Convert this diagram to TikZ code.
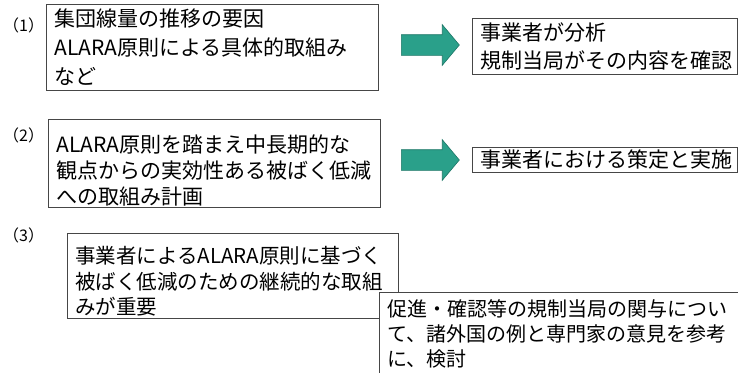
\documentclass[tikz,border=0pt]{standalone}
\usepackage{fontspec}
\setmainfont{Noto Sans CJK JP}
\usetikzlibrary{shapes.arrows}
\definecolor{teal1}{RGB}{42,160,138}
\definecolor{teal2}{RGB}{28,118,102}
\definecolor{boxline}{RGB}{70,70,70}
\tikzset{
  box/.style={draw=boxline, line width=0.9pt, fill=white, anchor=north west,
    inner xsep=8pt, inner ysep=0pt, align=left},
  lbl/.style={font=\fontsize{16}{18}\selectfont, inner sep=0pt, anchor=west},
  bigarrow/.style={single arrow, draw=teal2, line width=0.6pt, fill=teal1,
    inner xsep=0pt, inner ysep=10pt, minimum width=40pt, minimum height=58pt,
    single arrow head extend=10pt, single arrow tip angle=100,
    single arrow head indent=0pt}
}
\begin{document}
\begin{tikzpicture}[x=1pt,y=-1pt]
\useasboundingbox (0,0) rectangle (738,372);
\clip (0,0) rectangle (738,372);
\fill[white] (0,0) rectangle (738,372);

\node[lbl] (l1) at (3,25) {（1）};
\node[lbl] (l2) at (3,135) {（2）};
\node[lbl] (l3) at (3,235) {（3）};

\node[box, minimum width=332pt, minimum height=86pt, text width=316pt,
  font=\fontsize{21}{29}\selectfont] (b1) at (46,4)
  {集団線量の推移の要因\\ALARA原則による具体的取組み\\など};
\node[box, minimum width=265pt, minimum height=56pt, text width=249pt,
  font=\fontsize{21}{28}\selectfont] (b2) at (472,18)
  {事業者が分析\\規制当局がその内容を確認};

\node[box, minimum width=332pt, minimum height=88pt, text width=316pt,
  font=\fontsize{21}{26}\selectfont] (b3) at (48,119)
  {\rule{0pt}{31.5pt}ALARA原則を踏まえ中長期的な\\観点からの実効性ある被ばく低減\\への取組み計画};
\node[box, minimum width=265pt, minimum height=25pt, text width=249pt,
  font=\fontsize{21}{26}\selectfont] (b4) at (472,147)
  {事業者における策定と実施};

\node[box, minimum width=331pt, minimum height=85pt, text width=315pt,
  font=\fontsize{20.5}{25.5}\selectfont] (b5) at (67,233)
  {\rule{0pt}{28.5pt}事業者によるALARA原則に基づく\\被ばく低減のための継続的な取組\\みが重要};
\node[box, minimum width=375pt, minimum height=82pt, text width=359pt,
  font=\fontsize{20}{25}\selectfont] (b6) at (379,292)
  {促進・確認等の規制当局の関与につい\\て、諸外国の例と専門家の意見を参考\\に、検討};

\node[bigarrow] (a1) at (426,45) {};
\node[bigarrow] (a2) at (426,160) {};
\end{tikzpicture}
\end{document}
